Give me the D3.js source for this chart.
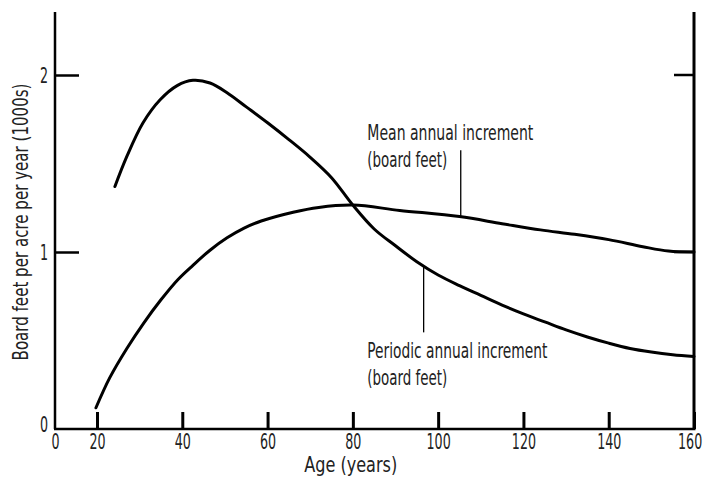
<!DOCTYPE html>
<html>
<head>
<meta charset="utf-8">
<script src="https://cdn.jsdelivr.net/npm/d3@7"></script>
<style>
  html, body { margin: 0; padding: 0; background: #fff; }
  svg { display: block; }
  text { font-family: "DejaVu Sans Condensed", "DejaVu Sans", sans-serif; fill: #222; }
</style>
</head>
<body>
<svg id="chart" width="716" height="484"></svg>
<script>
// ---- data ----
const xTickValues = [0, 20, 40, 60, 80, 100, 120, 140, 160];
const yTickValues = [0, 1, 2];
const meanAges   = [19.5, 23, 27, 31, 35, 39, 42.5, 46.5, 50.5, 54.5, 58.5, 66, 72, 80, 91, 105, 115, 124, 132, 140, 148, 154, 160];
const meanValues = [0.12, 0.29, 0.455, 0.60, 0.73, 0.845, 0.925, 1.01, 1.08, 1.135, 1.175, 1.225, 1.252, 1.265, 1.235, 1.20, 1.16, 1.125, 1.10, 1.07, 1.03, 1.005, 1.00];
const periodicAges   = [24.2, 27, 30.8, 34.8, 38.8, 42.5, 46.5, 50.5, 55, 60, 65, 70, 75, 80, 85, 90, 95, 100, 105, 110, 115, 120, 125, 130, 135, 140, 145, 150, 155, 160];
const periodicValues = [1.37, 1.54, 1.73, 1.86, 1.94, 1.97, 1.955, 1.90, 1.82, 1.73, 1.635, 1.535, 1.42, 1.265, 1.13, 1.035, 0.945, 0.87, 0.81, 0.755, 0.70, 0.65, 0.605, 0.56, 0.52, 0.485, 0.455, 0.435, 0.42, 0.41];
const meanLabel = ["Mean annual increment", "(board feet)"];
const periodicLabel = ["Periodic annual increment", "(board feet)"];
const xTitle = "Age (years)";
const yTitle = "Board feet per acre per year (1000s)";

// ---- layout ----
const svg = d3.select("#chart");
const mLeft = 55, mRight = 694, mBottom = 429, mTop = 12;
const FONT = 22;

const x = d3.scaleLinear().domain([0, 20, 160]).range([mLeft, 97, mRight]);
const y = d3.scaleLinear().domain([0, 2]).range([mBottom, 75]);

// squeeze a text horizontally (the reference uses a condensed face)
function squeeze(sel, factor) {
  sel.each(function () {
    const len = this.getComputedTextLength();
    d3.select(this).attr("textLength", len * factor).attr("lengthAdjust", "spacingAndGlyphs");
  });
}
function fitTo(sel, width) {
  sel.attr("textLength", width).attr("lengthAdjust", "spacingAndGlyphs");
}

// frame lines
svg.append("line").attr("x1", mLeft).attr("x2", mLeft).attr("y1", mTop).attr("y2", mBottom)
  .attr("stroke", "#000").attr("stroke-width", 2.5);
svg.append("line").attr("x1", mRight).attr("x2", mRight).attr("y1", mTop).attr("y2", mBottom)
  .attr("stroke", "#000").attr("stroke-width", 3);
svg.append("line").attr("x1", mLeft - 1).attr("x2", mRight + 1.5).attr("y1", mBottom).attr("y2", mBottom)
  .attr("stroke", "#000").attr("stroke-width", 2.5);

// bottom axis ticks (inward)
const xAxis = d3.axisBottom(x).tickValues(xTickValues).tickSize(0).tickPadding(4).tickFormat(d3.format("d"));
const gx = svg.append("g").attr("transform", `translate(0,${mBottom})`).call(xAxis);
gx.select(".domain").remove();
gx.selectAll("text").attr("font-size", FONT).attr("fill", "#222")
  .attr("font-family", "DejaVu Sans Condensed, DejaVu Sans, sans-serif");
squeeze(gx.selectAll("text"), 0.64);
gx.selectAll(".tick").filter(d => d === 160).select("text").attr("dx", "-0.2em");
gx.selectAll(".tick").filter(d => d > 0).append("line")
  .attr("y1", 0).attr("y2", -17).attr("stroke", "#000").attr("stroke-width", 3);

// left axis
const yAxis = d3.axisLeft(y).tickValues(yTickValues).tickSize(0).tickPadding(7).tickFormat(d3.format("d"));
const gy = svg.append("g").attr("transform", `translate(${mLeft},0)`).call(yAxis);
gy.select(".domain").remove();
gy.selectAll("text").attr("font-size", FONT).attr("fill", "#222")
  .attr("font-family", "DejaVu Sans Condensed, DejaVu Sans, sans-serif");
squeeze(gy.selectAll("text"), 0.64);
gy.selectAll(".tick").filter(d => d === 0).select("text").attr("dy", "0.1em");
gy.selectAll(".tick").filter(d => d > 0).append("line")
  .attr("x1", 0).attr("x2", 24).attr("stroke", "#000").attr("stroke-width", 2.5);

// right axis ticks (inward)
const gr = svg.append("g").attr("transform", `translate(${mRight},0)`);
gr.selectAll("line").data(yTickValues.filter(d => d > 0)).join("line")
  .attr("x1", 0).attr("x2", -20).attr("y1", d => y(d)).attr("y2", d => y(d))
  .attr("stroke", "#000").attr("stroke-width", 2.5);

// curves
const line = d3.line().x(d => x(d[0])).y(d => y(d[1])).curve(d3.curveCatmullRom.alpha(0.5));
const meanData = meanAges.map((a, i) => [a, meanValues[i]]);
const periodicData = periodicAges.map((a, i) => [a, periodicValues[i]]);
svg.append("path").datum(meanData).attr("d", line)
  .attr("fill", "none").attr("stroke", "#000").attr("stroke-width", 3).attr("stroke-linecap", "round");
svg.append("path").datum(periodicData).attr("d", line)
  .attr("fill", "none").attr("stroke", "#000").attr("stroke-width", 3).attr("stroke-linecap", "round");

// annotations
function label(lines, widths, ax, ay) {
  lines.forEach((s, i) => {
    const t = svg.append("text").attr("x", x(ax)).attr("y", y(ay) + i * 27)
      .attr("font-size", FONT).text(s);
    fitTo(t, widths[i]);
  });
}
label(meanLabel, [166, 80], 83.4, 1.635);
label(periodicLabel, [180, 80], 83.4, 0.40);

// leader lines
svg.append("line").attr("x1", x(105.3)).attr("x2", x(105.3)).attr("y1", y(1.575)).attr("y2", y(1.20))
  .attr("stroke", "#000").attr("stroke-width", 1.3);
svg.append("line").attr("x1", x(96.6)).attr("x2", x(96.6)).attr("y1", y(0.92)).attr("y2", y(0.546))
  .attr("stroke", "#000").attr("stroke-width", 1.3);

// axis titles
const xt = svg.append("text").attr("x", x(79.5)).attr("y", 472)
  .attr("text-anchor", "middle").attr("font-size", FONT).text(xTitle);
fitTo(xt, 93);
const yt = svg.append("text").attr("text-anchor", "middle").attr("font-size", FONT).text(yTitle);
const ytLen = yt.node().getComputedTextLength();
yt.attr("transform", `translate(28,222) rotate(-90) scale(${277 / ytLen},1)`);
</script>
</body>
</html>
